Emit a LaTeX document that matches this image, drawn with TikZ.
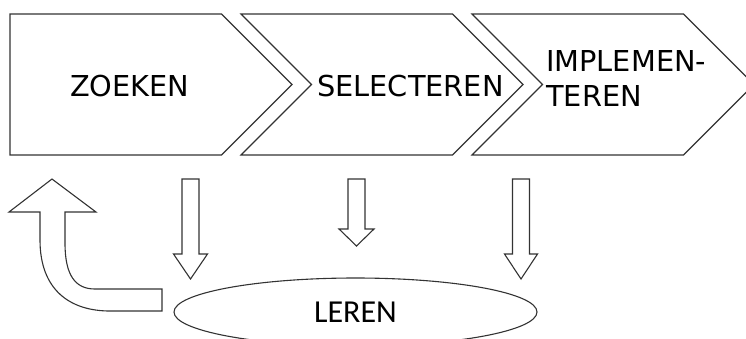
\documentclass[tikz,border=0pt]{standalone}
\usepackage{fontspec}
\setmainfont{DejaVu Sans}
\newfontfamily\lerenfont{Carlito}
\usetikzlibrary{shapes.geometric, positioning}
\tikzstyle{stagetext} = [inner sep=0pt, font=\fontsize{28.8}{35}\selectfont]
\tikzstyle{blockarrow} = [draw=black!80, line width=1.1pt, line join=miter]

\begin{document}
\begin{tikzpicture}[x=1pt, y=-1pt]
		\useasboundingbox (0,0) rectangle (746,338);
		% the three stages: a flat start and two notched chevrons
		\draw [blockarrow] (10,14) -- (221.5,14) -- (292,84.5) -- (221.5,155) -- (10,155) -- cycle;
		\foreach \l in {241, 472}
			\draw [blockarrow] (\l,14) -- ({\l+211.5},14) -- ({\l+282},84.5) -- ({\l+211.5},155) -- (\l,155) -- ({\l+70.5},84.5) -- cycle;
		\node (Zoeken) [stagetext, anchor=base west] at (70,96) {ZOEKEN};
		\node (Selecteren) [stagetext, anchor=base west] at (317,96) {SELECTEREN};
		\node (Implementeren) [stagetext, anchor=north west, align=left] at (546,50.5) {IMPLEMEN-\\TEREN};
		\node (Leren) [ellipse, draw=black!80, line width=1.1pt, minimum width=363pt, minimum height=68pt, inner sep=0pt, font=\lerenfont\fontsize{32}{38}\selectfont] at (355.5,312) {LEREN};
		% block arrows down to the learning step
		\foreach \cx/\hd/\tip/\hw in {190.5/254/279/17, 356.5/229/246/17.5, 521/254/279/16.5}
			\draw [blockarrow] ({\cx-8.5},179) -- ({\cx+8.5},179) -- ({\cx+8.5},\hd) -- ({\cx+\hw},\hd) -- (\cx,\tip) -- ({\cx-\hw},\hd) -- ({\cx-8.5},\hd) -- cycle;
		% bent arrow back up to the start
		\draw [blockarrow] (52,179) -- (96,212) -- (65,212) -- (65,243) .. controls (65,275) and (75,289) .. (95,289) -- (162,289) -- (162,311) -- (110,311) .. controls (70,311) and (40,290) .. (40,240) -- (40,212) -- (9,212) -- cycle;
\end{tikzpicture}
\end{document}
